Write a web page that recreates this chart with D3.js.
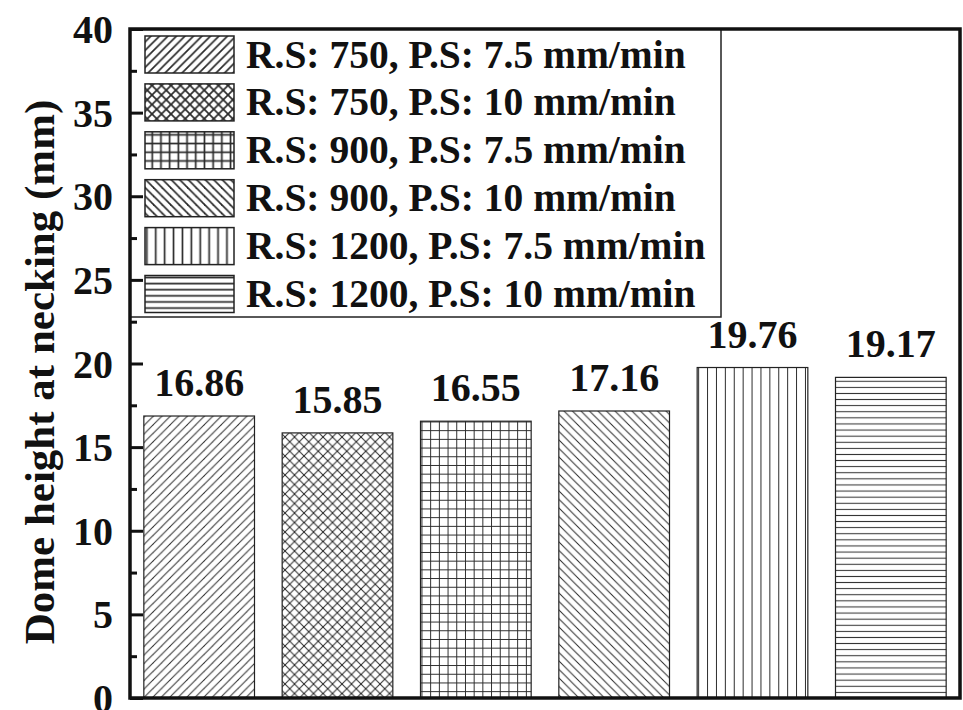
<!DOCTYPE html>
<html>
<head>
<meta charset="utf-8">
<script src="https://cdn.jsdelivr.net/npm/d3@7"></script>
<style>
  html, body { margin: 0; padding: 0; background: #fff; }
  svg { display: block; }
  text { font-family: "Liberation Serif", "Times New Roman", serif; font-weight: bold; fill: #111; }
</style>
</head>
<body>
<svg id="chart" width="963" height="710"></svg>
<script>
// Process conditions (rotational speed, pitch/step speed)
const categories = [
  "R.S: 750, P.S: 7.5 mm/min",
  "R.S: 750, P.S: 10 mm/min",
  "R.S: 900, P.S: 7.5 mm/min",
  "R.S: 900, P.S: 10 mm/min",
  "R.S: 1200, P.S: 7.5 mm/min",
  "R.S: 1200, P.S: 10 mm/min"
];
// Dome height at necking (mm)
const domeHeight = [16.86, 15.85, 16.55, 17.16, 19.76, 19.17];
const valueLabels = ["16.86", "15.85", "16.55", "17.16", "19.76", "19.17"];
const yTicks = [0, 5, 10, 15, 20, 25, 30, 35, 40];
const yMinorTicks = [2.5, 7.5, 12.5, 17.5, 22.5, 27.5, 32.5, 37.5];
const hatchTypes = ["fwd", "cross", "grid", "back", "vert", "horiz"];

const svg = d3.select("#chart");
const margin = { left: 130, right: 3, top: 29, bottom: 12 };
const W = 963, H = 710;
const x0 = margin.left, x1 = W - margin.right;
const y0 = H - margin.bottom, y1 = margin.top;

const x = d3.scaleBand().domain(categories).range([x0, x1]).paddingInner(0.2).paddingOuter(0.1);
const y = d3.scaleLinear().domain([0, 40]).range([y0, y1]);

// Hatch fills
const defs = svg.append("defs");
const ink = "#2a2a2a";
function makePattern(id, type, lw) {
  const s = { fwd: 8.5, back: 8.5, cross: 9.5, grid: 8.7, vert: 8.9, horiz: 6.1 }[type];
  const p = defs.append("pattern").attr("id", id)
    .attr("patternUnits", "userSpaceOnUse").attr("width", s).attr("height", s);
  p.append("rect").attr("width", s).attr("height", s).attr("fill", "#fff");
  const line = (a, b, c, d) => p.append("line").attr("x1", a).attr("y1", b).attr("x2", c).attr("y2", d)
    .attr("stroke", ink).attr("stroke-width", lw).attr("stroke-linecap", "square");
  if (type === "fwd" || type === "cross") {
    line(0, s, s, 0); line(-s / 2, s / 2, s / 2, -s / 2); line(s / 2, s * 1.5, s * 1.5, s / 2);
  }
  if (type === "back" || type === "cross") {
    line(0, 0, s, s); line(-s / 2, s / 2, s / 2, s * 1.5); line(s / 2, -s / 2, s * 1.5, s / 2);
  }
  if (type === "grid" || type === "vert") line(s / 2, 0, s / 2, s);
  if (type === "grid" || type === "horiz") line(0, s / 2, s, s / 2);
}
hatchTypes.forEach(t => { makePattern("h-" + t, t, 1); makePattern("hl-" + t, t, 1.7); });

// Bars
svg.append("g").selectAll("rect").data(domeHeight).join("rect")
  .attr("x", (d, i) => x(categories[i]))
  .attr("y", d => y(d))
  .attr("width", x.bandwidth())
  .attr("height", d => y(0) - y(d))
  .attr("fill", (d, i) => `url(#h-${hatchTypes[i]})`)
  .attr("stroke", "#222").attr("stroke-width", 1.2);

// Value labels above bars
svg.append("g").selectAll("text").data(domeHeight).join("text")
  .attr("x", (d, i) => x(categories[i]) + x.bandwidth() / 2)
  .attr("y", d => y(d) - 20)
  .attr("text-anchor", "middle")
  .attr("font-size", 40)
  .text((d, i) => valueLabels[i]);

// Legend
const lg = svg.append("g");
lg.append("rect").attr("x", x0).attr("y", y1).attr("width", 721 - x0).attr("height", 317 - y1)
  .attr("fill", "#fff").attr("stroke", "#222").attr("stroke-width", 1.5);
categories.forEach((c, i) => {
  const cy = 54.5 + i * 47.9;
  lg.append("rect").attr("x", 145).attr("y", cy - 18.5).attr("width", 89).attr("height", 37)
    .attr("fill", `url(#hl-${hatchTypes[i]})`).attr("stroke", "#222").attr("stroke-width", 1.5);
  lg.append("text").attr("x", 246).attr("y", cy + 13).attr("font-size", 39.5).text(c);
});

// Y axis: inward ticks, major every 5 with labels, minor every 2.5
const yAxis = d3.axisLeft(y).tickValues(yTicks).tickSize(-13).tickPadding(17).tickFormat(d3.format("d"));
const gy = svg.append("g").attr("transform", `translate(${x0},0)`).call(yAxis);
gy.select(".domain").remove();
gy.selectAll(".tick line").attr("stroke", "#111").attr("stroke-width", 3);
gy.selectAll(".tick text").attr("font-size", 40).attr("font-family", "Liberation Serif")
  .attr("font-weight", "bold").attr("fill", "#111").attr("dy", "0.34em");
const gyMinor = svg.append("g").attr("transform", `translate(${x0},0)`)
  .call(d3.axisLeft(y).tickValues(yMinorTicks).tickSize(-7).tickFormat(""));
gyMinor.select(".domain").remove();
gyMinor.selectAll(".tick line").attr("stroke", "#111").attr("stroke-width", 3);

// Frame
svg.append("rect").attr("x", x0).attr("y", y1).attr("width", x1 - x0).attr("height", y0 - y1)
  .attr("fill", "none").attr("stroke", "#111").attr("stroke-width", 3.5);

// Y axis title
svg.append("text")
  .attr("transform", `translate(54,372) rotate(-90)`)
  .attr("text-anchor", "middle")
  .attr("font-size", 43)
  .text("Dome height at necking (mm)");
</script>
</body>
</html>
